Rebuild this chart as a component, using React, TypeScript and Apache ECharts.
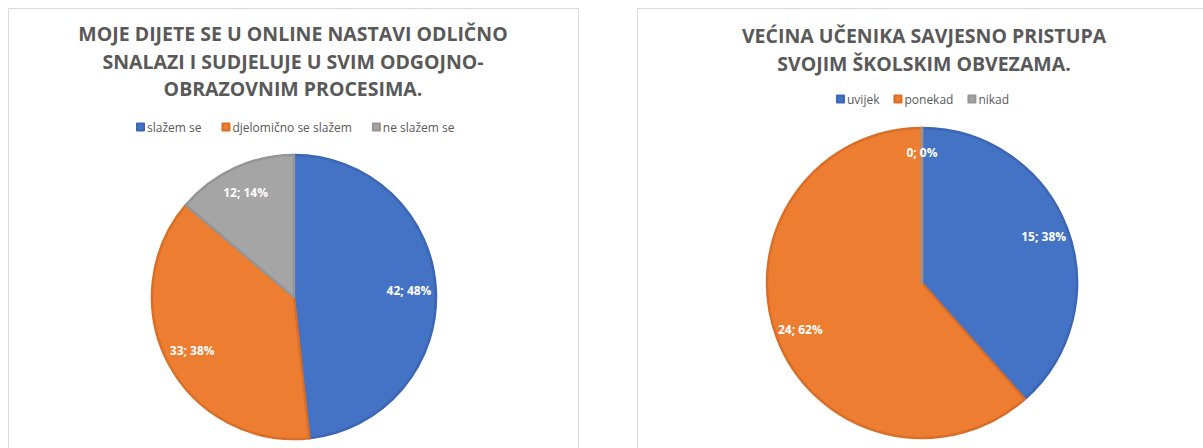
import React, { useEffect, useRef } from "react";
import * as echarts from "echarts";

const leftTitle = "MOJE DIJETE SE U ONLINE NASTAVI ODLIČNO\nSNALAZI I SUDJELUJE U SVIM ODGOJNO-\nOBRAZOVNIM PROCESIMA.";
const rightTitle = "VEĆINA UČENIKA SAVJESNO PRISTUPA\nSVOJIM ŠKOLSKIM OBVEZAMA.";

const leftCategories = ["slažem se", "djelomično se slažem", "ne slažem se"];
const leftValues = [42, 33, 12];
const rightCategories = ["uvijek", "ponekad", "nikad"];
const rightValues = [15, 24, 0];

const sliceColors = ["#4472C4", "#ED7D31", "#A5A5A5"];
const sliceBorders = ["#3B66B3", "#D96E28", "#959595"];

const FONT = "'Open Sans', 'Noto Sans', sans-serif";

function buildData(cats: string[], vals: number[]) {
  return cats.map((name, i) => ({
    name,
    value: vals[i],
    itemStyle: { color: sliceColors[i], borderColor: sliceBorders[i], borderWidth: 2.5 },
  }));
}

function labelData(cats: string[], vals: number[]) {
  return cats.map((name, i) => ({ name, value: vals[i] }));
}

export default function App() {
  const ref = useRef<HTMLDivElement>(null);
  useEffect(() => {
    if (!ref.current) return;
    const chart = echarts.init(ref.current, undefined, { renderer: "svg" });
    const titleStyle = {
      fontSize: 19.5,
      fontWeight: "bold" as const,
      color: "#595959",
      lineHeight: 27.5,
      fontFamily: FONT,
    };
    const legendText = { fontSize: 12, color: "#595959", fontFamily: FONT, padding: [0, 0, 0, -2] };
    const labelStyle = {
      show: true,
      position: "inside" as const,
      formatter: "{c}; {d}%",
      color: "#ffffff",
      fontWeight: "bold" as const,
      fontSize: 12,
      fontFamily: FONT,
    };
    const L = { c: [294, 297], r: 142 };
    const R = { c: [922, 283], r: 155 };
    chart.setOption({
      animation: false,
      backgroundColor: "#ffffff",
      graphic: [
        {
          type: "rect",
          shape: { x: 8.5, y: 8.5, width: 570, height: 460 },
          style: { fill: "none", stroke: "#d9d9d9", lineWidth: 1 },
          silent: true,
        },
        {
          type: "rect",
          shape: { x: 637.5, y: 8.5, width: 600, height: 460 },
          style: { fill: "none", stroke: "#d9d9d9", lineWidth: 1 },
          silent: true,
        },
      ],
      title: [
        { text: leftTitle, left: 293, top: 20, textAlign: "center", textStyle: titleStyle, padding: 0 },
        { text: rightTitle, left: 924, top: 22, textAlign: "center", textStyle: titleStyle, padding: 0 },
      ],
      legend: [
        {
          data: leftCategories,
          left: 136,
          top: 121,
          icon: "rect",
          itemWidth: 7,
          itemHeight: 7,
          itemGap: 20,
          padding: 0,
          textStyle: legendText,
          selectedMode: false,
        },
        {
          data: rightCategories,
          left: 836,
          top: 93,
          icon: "rect",
          itemWidth: 7,
          itemHeight: 7,
          itemGap: 14,
          padding: 0,
          textStyle: legendText,
          selectedMode: false,
        },
      ],
      series: [
        {
          type: "pie",
          center: L.c,
          radius: [0, L.r],
          startAngle: 90,
          clockwise: true,
          percentPrecision: 0,
          label: { show: false },
          labelLine: { show: false },
          emphasis: { disabled: true },
          data: buildData(leftCategories, leftValues),
        },
        {
          type: "pie",
          center: L.c,
          radius: [0, L.r * 1.58],
          startAngle: 90,
          clockwise: true,
          percentPrecision: 0,
          silent: true,
          itemStyle: { color: "rgba(0,0,0,0)", borderWidth: 0 },
          label: labelStyle,
          labelLine: { show: false },
          emphasis: { disabled: true },
          data: labelData(leftCategories, leftValues),
        },
        {
          type: "pie",
          center: R.c,
          radius: [0, R.r],
          startAngle: 90,
          clockwise: true,
          percentPrecision: 0,
          label: { show: false },
          labelLine: { show: false },
          emphasis: { disabled: true },
          data: buildData(rightCategories, rightValues),
        },
        {
          type: "pie",
          center: R.c,
          radius: [0, R.r * 1.64],
          startAngle: 90,
          clockwise: true,
          percentPrecision: 0,
          silent: true,
          itemStyle: { color: "rgba(0,0,0,0)", borderWidth: 0 },
          label: labelStyle,
          labelLine: { show: false },
          emphasis: { disabled: true },
          data: labelData(rightCategories, rightValues),
        },
      ],
    });
    return () => chart.dispose();
  }, []);
  return (
    <div
      ref={ref}
      style={{ position: "absolute", left: 0, top: 0, width: 1203, height: 448 }}
    />
  );
}
